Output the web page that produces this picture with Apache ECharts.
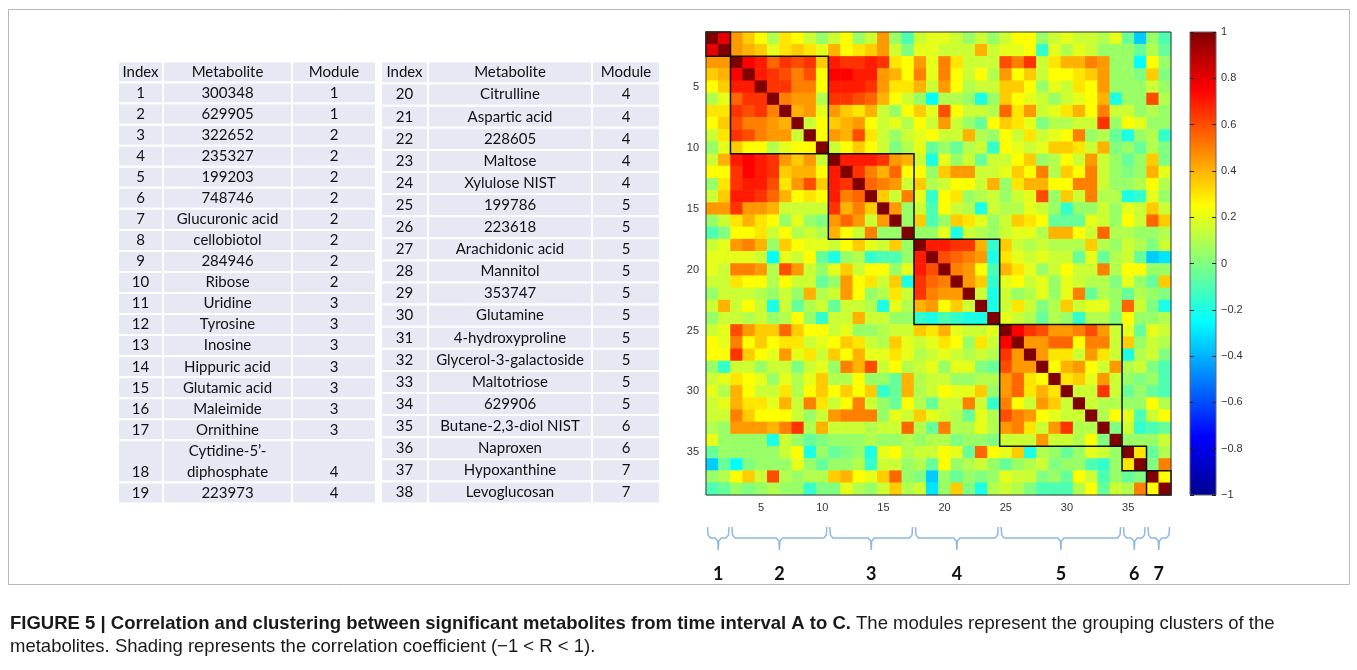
<!DOCTYPE html>
<html>
<head>
<meta charset="utf-8">
<script src="https://cdn.jsdelivr.net/npm/echarts@6/dist/echarts.min.js"></script>
<style>
  html, body { margin: 0; padding: 0; background: #fff; }
  #main { width: 1357px; height: 670px; }
</style>
</head>
<body>
<div id="main"></div>
<script>
// ---- data ----
const indexNums = [1, 2, 3, 4, 5, 6, 7, 8, 9, 10, 11, 12, 13, 14, 15, 16, 17, 18, 19,
  20, 21, 22, 23, 24, 25, 26, 27, 28, 29, 30, 31, 32, 33, 34, 35, 36, 37, 38]
const metabolites = ['300348', '629905', '322652', '235327', '199203', '748746',
  'Glucuronic acid', 'cellobiotol', '284946', 'Ribose', 'Uridine', 'Tyrosine',
  'Inosine', 'Hippuric acid', 'Glutamic acid', 'Maleimide', 'Ornithine',
  'Cytidine-5’-\ndiphosphate', '223973', 'Citrulline', 'Aspartic acid', '228605',
  'Maltose', 'Xylulose NIST', '199786', '223618', 'Arachidonic acid', 'Mannitol',
  '353747', 'Glutamine', '4-hydroxyproline', 'Glycerol-3-galactoside', 'Maltotriose',
  '629906', 'Butane-2,3-diol NIST', 'Naproxen', 'Hypoxanthine', 'Levoglucosan']
const moduleOf = [1, 1, 2, 2, 2, 2, 2, 2, 2, 2, 3, 3, 3, 3, 3, 3, 3, 4, 4, 4, 4, 4, 4, 4,
  5, 5, 5, 5, 5, 5, 5, 5, 5, 5, 6, 6, 7, 7]
const tableHeader = ['Index', 'Metabolite', 'Module']
const axisTickLabels = [5, 10, 15, 20, 25, 30, 35]
const colorbarTicks = [-1, -0.8, -0.6, -0.4, -0.2, 0, 0.2, 0.4, 0.6, 0.8, 1]

// upper triangle of the correlation matrix, row i holds r(i, j) for j > i
const corrUpper = [
  [0.8, 0.45, 0.35, 0.25, 0.1, 0.3, 0.25, 0.15, 0.05, 0.15, 0.25, 0.05, 0.15, 0.45, 0.05, -0.1, 0.15, 0.2, 0.2, 0.15, 0.05, 0.15, 0.05, 0.15, 0.25, 0.25, 0.05, 0.15, 0.2, 0.15, 0.15, 0.1, 0.2, -0.05, -0.35, 0.05, -0.1],
  [0.45, 0.4, 0.35, 0.2, 0.3, 0.35, 0.3, 0.2, 0.4, 0.25, 0.3, 0.35, 0.45, 0.15, 0, 0.2, 0.2, 0.15, 0.15, 0.15, 0.4, 0.15, 0.2, 0.2, 0.25, -0.15, 0.2, 0.1, 0.2, 0.15, 0.05, 0.05, 0.05, -0.05, 0.1, -0.05],
  [0.75, 0.7, 0.55, 0.65, 0.6, 0.65, 0.35, 0.7, 0.65, 0.65, 0.7, 0.65, 0.3, 0.25, 0.45, 0.2, 0.5, 0.3, 0.15, 0.15, 0.15, 0.6, 0.5, 0.65, 0.15, 0.3, 0.4, 0.4, 0.5, 0.45, 0.05, 0.05, -0.25, 0.25, 0.05],
  [0.7, 0.65, 0.6, 0.5, 0.6, 0.25, 0.75, 0.75, 0.7, 0.7, 0.45, 0.4, 0.25, 0.5, 0.2, 0.5, 0.25, 0.15, 0.25, 0.1, 0.45, 0.25, 0.35, 0.15, 0.25, 0.25, 0.3, 0.35, 0.45, 0.05, 0.05, 0, 0.35, 0],
  [0.65, 0.65, 0.5, 0.5, 0.25, 0.7, 0.7, 0.7, 0.65, 0.45, 0.3, 0.3, 0.4, 0.15, 0.45, 0.25, 0.1, 0.15, 0.15, 0.35, 0.35, 0.25, 0.05, 0.2, 0.15, 0.3, 0.25, 0.45, 0.05, 0.05, 0.05, 0.15, 0.05],
  [0.5, 0.45, 0.45, 0.1, 0.65, 0.65, 0.6, 0.55, 0.4, 0.25, 0.15, 0.05, -0.25, 0.1, 0.1, 0.05, -0.2, 0.05, 0.35, 0.25, 0.2, 0.15, 0.05, 0.15, 0.2, 0.25, 0.4, -0.2, 0.05, 0.05, 0.6, 0.1],
  [0.4, 0.45, 0.2, 0.45, 0.35, 0.3, 0.4, 0.15, 0.05, 0.25, 0.35, 0.2, 0.6, 0.25, 0.15, 0.15, 0.1, 0.55, 0.3, 0.45, 0.15, 0.2, 0.3, 0.4, 0.25, 0.5, 0.15, 0.15, 0.05, 0.1, 0.05],
  [0.15, 0.25, 0.35, 0.4, 0.45, 0.25, 0.15, 0.2, 0.1, 0.25, 0.15, 0.45, 0.15, 0.05, -0.05, 0.25, 0.35, 0.3, 0.2, 0, 0.1, 0.1, 0.15, 0.15, 0.65, 0.05, 0.25, 0.2, 0.05, 0.05],
  [0.25, 0.45, 0.4, 0.6, 0.3, 0.15, 0.05, 0.15, 0.2, 0.25, 0.15, 0.15, 0.4, 0.1, 0.05, 0.25, 0.15, 0.3, 0.15, 0.2, 0.25, 0.5, 0.05, 0.1, -0.05, -0.2, 0.05, 0.1, -0.15],
  [0.15, 0.25, 0.35, 0.25, 0.15, 0, 0.1, 0.2, -0.05, 0.05, -0.05, 0.1, 0.15, -0.15, 0.25, 0.2, 0.15, 0.2, 0.35, 0.35, 0.3, 0.15, 0.4, 0, 0.05, -0.05, 0.1, 0],
  [0.7, 0.7, 0.7, 0.65, 0.45, 0.4, 0.15, -0.2, 0.2, 0.05, 0.15, -0.05, 0.15, 0.15, 0.25, 0.35, 0.05, 0.1, 0.25, 0.15, 0.45, 0.15, 0.05, -0.05, 0.05, 0.35, 0],
  [0.65, 0.5, 0.4, 0.55, 0.25, 0.25, 0.05, 0.35, 0.45, 0.45, 0.15, 0.15, 0.2, 0.35, 0.25, 0.5, 0.1, 0.35, 0.25, 0.5, 0.15, 0.05, 0, 0.05, 0.4, 0.2],
  [0.55, 0.5, 0.45, 0.15, 0.35, 0.1, 0.15, 0.25, 0.25, 0.15, 0.4, 0.05, 0.3, 0.4, 0.4, 0.25, 0.25, 0.5, 0.5, 0.15, 0.05, 0.05, 0.1, 0.25, 0.1],
  [0.35, 0.15, 0.5, 0.2, -0.15, 0.25, 0.3, 0.05, 0.1, 0.15, 0.05, 0.15, 0.2, 0.6, 0.05, 0.35, 0.15, 0.5, 0.1, 0.1, -0.2, -0.15, 0.2, 0.05],
  [0.45, 0.05, 0.15, -0.1, 0.25, 0.15, 0.1, -0.2, 0.15, 0.1, 0.1, 0.2, 0.15, 0.05, -0.15, 0.05, 0.05, 0.15, 0.05, 0.2, 0.15, 0.35, 0.15],
  [0.05, 0.35, -0.1, 0.05, 0.35, 0.3, 0.2, 0.05, 0.15, 0.35, 0.3, 0.25, -0.05, -0.05, -0.05, 0.2, 0.15, 0.05, 0.25, 0.15, 0.55, 0.35],
  [0.05, 0.05, 0.2, -0.2, 0.15, 0.1, 0.05, 0.15, 0.2, 0.2, 0.1, 0.4, 0.4, 0.25, 0.15, 0.55, 0.1, 0.1, 0.05, 0.05, 0.1],
  [0.7, 0.7, 0.65, 0.65, 0.4, -0.15, 0.35, 0.15, 0.1, 0.15, 0.1, 0.1, 0.1, 0.35, 0.1, 0.05, 0.15, 0.1, 0, 0.15],
  [0.6, 0.55, 0.5, 0.45, -0.2, 0.3, 0.2, 0.15, 0.2, 0.15, 0.15, -0.05, 0.2, -0.05, 0.1, 0.15, -0.05, -0.35, -0.3],
  [0.5, 0.45, 0.25, -0.1, 0.4, 0.3, 0.2, 0.05, 0.15, 0.25, 0.15, 0.15, 0.5, 0.1, 0.25, 0.25, 0.05, 0.05],
  [0.45, 0.35, -0.15, 0.2, 0.25, 0.15, 0.2, 0.05, 0.2, 0.15, 0.1, 0.1, 0, 0.2, 0.05, -0.05, 0.35],
  [0.15, -0.2, 0.15, 0.05, 0.1, 0.2, 0.05, 0.2, 0.5, -0.05, 0.1, 0.05, -0.05, 0.1, 0.05, 0],
  [-0.2, 0.15, 0.3, 0.15, 0, 0.1, 0.35, 0.15, 0.2, 0.2, 0.05, 0.55, 0.15, 0, -0.2],
  [0.2, 0.15, 0.1, -0.05, 0.1, 0.05, -0.15, 0.1, 0.1, 0, 0.25, 0.05, 0.05, 0.1],
  [0.75, 0.65, 0.6, 0.45, 0.45, 0.5, 0.6, 0.45, 0.15, 0.2, -0.05, 0.2, 0.15],
  [0.45, 0.45, 0.55, 0.55, 0.25, 0.5, 0.5, 0.15, 0.35, 0.05, 0.15, 0.1],
  [0.45, 0.3, 0.3, 0.15, 0.45, 0.3, 0.15, -0.2, 0.1, 0.15, 0],
  [0.25, 0.4, 0.45, 0.25, 0.15, 0.45, 0.1, 0.15, 0, -0.1],
  [0.3, 0.35, 0.2, 0.45, 0.15, 0.05, 0, 0.05, -0.1],
  [0.15, 0.15, 0.65, 0.15, -0.05, 0.05, -0.05, -0.1],
  [0.15, 0.1, 0.1, 0.05, 0.05, 0.25, 0.1],
  [0.1, 0.25, 0.2, -0.1, 0.15, 0.25],
  [0, 0.15, -0.15, -0.1, -0.05],
  [0.05, 0.05, 0.05, 0.15],
  [0.3, -0.05, 0.1],
  [0, 0.5],
  [0.25]
]

// MATLAB jet
const jet = ['#00008f', '#0000ff', '#0080ff', '#00ffff', '#80ff80', '#ffff00', '#ff8000', '#ff0000', '#800000']
const FONT = '"Liberation Sans", Arial, sans-serif'
const TFONT = 'Lato, "Open Sans", sans-serif'

// ---- build matrix ----
const n = indexNums.length
const cats = indexNums.map(String)
const corr = indexNums.map(() => new Array(n).fill(1))
corrUpper.forEach((row, i) => {
  row.forEach((v, k) => {
    const j = i + 1 + k
    corr[i][j] = v
    corr[j][i] = v
  })
})
const heatData = []
for (let i = 0; i < n; i++) {
  for (let j = 0; j < n; j++) heatData.push([j, i, corr[i][j]])
}
const moduleIds = [...new Set(moduleOf)]
const spans = moduleIds.map(m => [moduleOf.indexOf(m), moduleOf.lastIndexOf(m)])

const showTick = (idx) => axisTickLabels.indexOf(idx + 1) >= 0
const catTick = { inside: true, length: 4, alignWithLabel: true, interval: showTick, lineStyle: { color: '#222' } }

// ---- table (graphic) ----
function tableGraphics (x0, widths, top, unitH, rows) {
  const els = []
  const fill = '#e6e9f4'
  const cellText = (x, y, text) => ({
    type: 'text',
    style: { text: text, x: x, y: y, font: '15px ' + TFONT, fill: '#111',
      align: 'center', verticalAlign: 'middle', textAlign: 'center', textVerticalAlign: 'middle', lineHeight: unitH }
  })
  let y = top
  const lines = [{ cells: tableHeader, units: 1 }].concat(rows.map(i => ({
    cells: [String(indexNums[i]), metabolites[i], String(moduleOf[i])],
    units: metabolites[i].indexOf('\n') >= 0 ? 2 : 1
  })))
  lines.forEach(line => {
    const h = unitH * line.units
    let x = x0
    line.cells.forEach((txt, c) => {
      const w = widths[c]
      els.push({ type: 'rect', shape: { x: x, y: y, width: w, height: h },
        style: { fill: fill, stroke: '#fff', lineWidth: 2 }, z: 1 })
      let ty = y + h / 2
      if (line.units > 1 && c !== 1) ty = y + h - unitH / 2
      els.push(Object.assign(cellText(x + w / 2, ty, txt), { z: 2 }))
      x += w
    })
    y += h
  })
  return els
}

const leftRows = indexNums.map((v, i) => i).filter(i => i < 19)
const rightRows = indexNums.map((v, i) => i).filter(i => i >= 19)

const chart = echarts.init(document.getElementById('main'), null, { renderer: 'canvas' })

const cbMin = colorbarTicks[0]
const cbMax = colorbarTicks[colorbarTicks.length - 1]
const option = {
  animation: false,
  backgroundColor: '#fff',
  grid: [
    { left: 706, top: 32, width: 465, height: 463, show: true, borderColor: '#333', borderWidth: 1, backgroundColor: 'transparent', z: 10 },
    { left: 1190, top: 32, width: 26, height: 463, show: true, borderColor: '#666', borderWidth: 1, backgroundColor: 'transparent', z: 10 }
  ],
  xAxis: [
    { type: 'category', gridIndex: 0, data: cats, position: 'bottom', z: 10, axisLine: { show: false }, axisTick: catTick,
      axisLabel: { interval: showTick, margin: 7, fontSize: 11, color: '#333', fontFamily: FONT }, splitLine: { show: false } },
    { type: 'category', gridIndex: 0, data: cats, position: 'top', z: 10, axisLine: { show: false }, axisTick: catTick,
      axisLabel: { show: false }, splitLine: { show: false } },
    { type: 'value', gridIndex: 1, min: 0, max: 1, show: false }
  ],
  yAxis: [
    { type: 'category', gridIndex: 0, data: cats, inverse: true, position: 'left', z: 10, axisLine: { show: false }, axisTick: catTick,
      axisLabel: { interval: showTick, margin: 7, fontSize: 11, color: '#333', fontFamily: FONT }, splitLine: { show: false } },
    { type: 'category', gridIndex: 0, data: cats, inverse: true, position: 'right', z: 10, axisLine: { show: false }, axisTick: catTick,
      axisLabel: { show: false }, splitLine: { show: false } },
    { type: 'value', gridIndex: 1, min: cbMin, max: cbMax, interval: 0.2,
      position: 'right', z: 10, axisLine: { show: false, onZero: false }, splitLine: { show: false },
      axisTick: { inside: true, length: 4, lineStyle: { color: '#222' } },
      axisLabel: { margin: 5, fontSize: 11, color: '#333', fontFamily: FONT,
        formatter: v => { const r = Math.round(v * 10) / 10; return r < 0 ? '−' + Math.abs(r) : String(r) } } },
    { type: 'value', gridIndex: 1, min: cbMin, max: cbMax, interval: 0.2,
      position: 'left', z: 10, axisLine: { show: false, onZero: false }, splitLine: { show: false },
      axisTick: { inside: true, length: 4, lineStyle: { color: '#222' } }, axisLabel: { show: false } }
  ],
  visualMap: {
    type: 'continuous', show: false, min: cbMin, max: cbMax, seriesIndex: 0, dimension: 2, inRange: { color: jet }
  },
  series: [
    { type: 'heatmap', xAxisIndex: 0, yAxisIndex: 0, data: heatData, progressive: 0, emphasis: { disabled: true } },
    {
      type: 'custom', xAxisIndex: 0, yAxisIndex: 0, data: spans, clip: false, silent: true, z: 5,
      renderItem: (params, api) => {
        const a = api.coord([api.value(0), api.value(0)])
        const b = api.coord([api.value(1), api.value(1)])
        const s = api.size([1, 1])
        return {
          type: 'rect',
          shape: { x: a[0] - s[0] / 2, y: a[1] - s[1] / 2, width: b[0] - a[0] + s[0], height: b[1] - a[1] + s[1] },
          style: { fill: 'none', stroke: '#111', lineWidth: 1.5 }
        }
      }
    }
  ]
}
chart.setOption(option)

// ---- colour bar, brackets under the modules, figure frame, table and caption ----
const cx = i => chart.convertToPixel({ xAxisIndex: 0 }, cats[i])
const cw = cx(1) - cx(0)
const gfx = []
gfx.push({ type: 'rect', shape: { x: 8.5, y: 9.5, width: 1341, height: 575 },
  style: { fill: 'none', stroke: '#b8b8b8', lineWidth: 1 }, z: 0 })

const cbTop = chart.convertToPixel({ yAxisIndex: 2 }, cbMax)
const cbBottom = chart.convertToPixel({ yAxisIndex: 2 }, cbMin)
const cbLeft = chart.convertToPixel({ xAxisIndex: 2 }, 0)
const cbRight = chart.convertToPixel({ xAxisIndex: 2 }, 1)
gfx.push({
  type: 'rect', z: 0,
  shape: { x: cbLeft, y: cbTop, width: cbRight - cbLeft, height: cbBottom - cbTop },
  style: {
    fill: { type: 'linear', x: 0, y: 1, x2: 0, y2: 0,
      colorStops: jet.map((c, k) => ({ offset: k / (jet.length - 1), color: c })) }
  }
})

spans.forEach((sp, k) => {
  const x0 = cx(sp[0]) - cw / 2 + 1.5
  const x1 = cx(sp[1]) + cw / 2 - 1.5
  const xc = (x0 + x1) / 2
  gfx.push({
    type: 'polyline', z: 3,
    shape: { points: [[x0, 527], [x0 + 0.5, 535], [x0 + 3, 538], [xc - 3, 538], [xc - 0.5, 541], [xc, 550],
      [xc + 0.5, 541], [xc + 3, 538], [x1 - 3, 538], [x1 - 0.5, 535], [x1, 527]] },
    style: { fill: 'none', stroke: '#8fb8e4', lineWidth: 1.5 }
  })
  gfx.push({ type: 'text', z: 3, style: { text: String(moduleIds[k]), x: xc, y: 574, font: 'bold 18px ' + TFONT, fill: '#111',
    align: 'center', verticalAlign: 'middle', textAlign: 'center', textVerticalAlign: 'middle' } })
})
tableGraphics(118, [45, 129, 84], 61.5, 442 / 21, leftRows).forEach(e => gfx.push(e))
tableGraphics(381, [47, 164, 68], 61.5, 442 / 20, rightRows).forEach(e => gfx.push(e))
gfx.push({
  type: 'text', z: 3,
  style: {
    x: 10, y: 624, verticalAlign: 'middle', textVerticalAlign: 'middle',
    text: '{b|FIGURE 5 | Correlation and clustering between significant metabolites from time interval A to C.}{r| The modules represent the grouping clusters of the}',
    rich: {
      b: { font: 'bold 18.5px ' + FONT, fill: '#1a1a1a' },
      r: { font: '18.5px ' + FONT, fill: '#1a1a1a' }
    }
  }
})
gfx.push({
  type: 'text', z: 3,
  style: { x: 10, y: 647, verticalAlign: 'middle', textVerticalAlign: 'middle', font: '18.5px ' + FONT, fill: '#1a1a1a',
    text: 'metabolites. Shading represents the correlation coefficient (−1 < R < 1).' }
})
chart.setOption({ graphic: { elements: gfx } })
</script>
</body>
</html>
